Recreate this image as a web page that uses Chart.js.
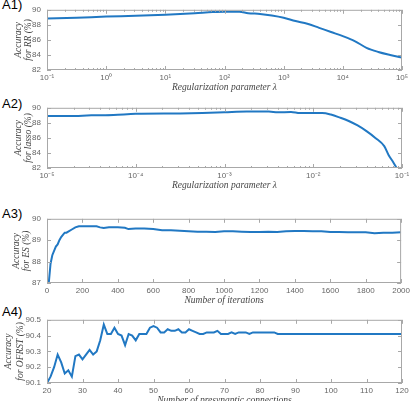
<!DOCTYPE html>
<html>
<head>
<meta charset="utf-8">
<script src="https://cdn.jsdelivr.net/npm/chart.js@4/dist/chart.umd.min.js"></script>
<style>
  body { margin: 0; background: #fff; width: 413px; height: 401px; overflow: hidden; position: relative; }
  .panel { position: absolute; left: 0; }
  .tag { position: absolute; left: 2px; font: 13px "Liberation Sans", Arial, sans-serif; color: #000; }
</style>
</head>
<body>
<div class="tag" style="top:-3px">A1)</div>
<div class="tag" style="top:96px">A2)</div>
<div class="tag" style="top:206px">A3)</div>
<div class="tag" style="top:304px">A4)</div>

<script>
// A1) ridge regression
const rrLambda = [0.1, 0.316, 1, 3.16, 10, 31.6, 63.1, 100, 178, 251, 398, 631, 1000, 1585, 2512, 3981, 6310, 10000, 15849, 25119, 39811, 63096, 100000];
const rrAcc = [88.85, 88.95, 89.1, 89.2, 89.35, 89.55, 89.7, 89.75, 89.75, 89.55, 89.45, 89.25, 88.95, 88.5, 88.15, 87.6, 87.05, 86.5, 85.85, 84.95, 84.4, 84.0, 83.65];

// A2) lasso
const lassoLambda = [1e-5, 1.78e-5, 3.16e-5, 5.62e-5, 1e-4, 3.16e-4, 5.62e-4, 1e-3, 1.78e-3, 3.16e-3, 3.98e-3, 5.62e-3, 7.08e-3, 1e-2, 1.26e-2, 1.58e-2, 2.0e-2, 2.51e-2, 3.16e-2, 3.98e-2, 5.01e-2, 6.31e-2, 7.08e-2, 7.94e-2, 8.71e-2];
const lassoAcc = [88.9, 88.9, 89.0, 89.05, 89.2, 89.25, 89.3, 89.4, 89.5, 89.5, 89.4, 89.45, 89.3, 89.3, 89.3, 89.1, 88.7, 88.25, 87.65, 86.9, 86.0, 84.9, 83.7, 82.8, 82.0];

// A3) ES iterations
const esIter = [10, 20, 30, 40, 50, 60, 70, 80, 90, 100, 110, 120, 140, 160, 180, 200, 250, 280, 300, 320, 350, 400, 440, 460, 500, 550, 600, 650, 700, 800, 850, 900, 950, 1000, 1050, 1100, 1150, 1200, 1250, 1300, 1350, 1400, 1450, 1500, 1550, 1600, 1650, 1700, 1750, 1800, 1850, 1900, 1950, 2000];
const esAcc = [87.0, 87.9, 88.3, 88.5, 88.7, 88.8, 89.0, 89.15, 89.25, 89.35, 89.35, 89.4, 89.5, 89.6, 89.65, 89.65, 89.65, 89.65, 89.6, 89.57, 89.6, 89.6, 89.58, 89.52, 89.55, 89.55, 89.52, 89.47, 89.47, 89.42, 89.4, 89.4, 89.38, 89.42, 89.42, 89.4, 89.38, 89.38, 89.4, 89.38, 89.42, 89.43, 89.43, 89.42, 89.42, 89.38, 89.38, 89.37, 89.37, 89.37, 89.33, 89.35, 89.35, 89.37];

// A4) OFRST presynaptic connections
const ofConn = [20, 21, 22, 23, 24, 25, 26, 27, 28, 29, 30, 31, 32, 33, 34, 35, 36, 37, 38, 39, 40, 41, 42, 43, 44, 45, 46, 47, 48, 49, 50, 51, 52, 53, 54, 55, 56, 57, 58, 59, 60, 61, 62, 63, 64, 65, 66, 67, 68, 69, 70, 71, 72, 73, 74, 75, 76, 77, 78, 84, 85, 120];
const ofAcc = [90.10, 90.14, 90.20, 90.28, 90.23, 90.16, 90.18, 90.14, 90.27, 90.28, 90.25, 90.28, 90.31, 90.28, 90.30, 90.37, 90.47, 90.41, 90.41, 90.45, 90.41, 90.40, 90.34, 90.41, 90.40, 90.37, 90.41, 90.41, 90.41, 90.45, 90.46, 90.45, 90.42, 90.42, 90.44, 90.43, 90.43, 90.44, 90.42, 90.42, 90.44, 90.43, 90.42, 90.41, 90.41, 90.42, 90.42, 90.42, 90.43, 90.41, 90.41, 90.41, 90.42, 90.41, 90.42, 90.42, 90.42, 90.41, 90.42, 90.42, 90.41, 90.41];

// tick values
const rrXTicks = [1e-1, 1e0, 1e1, 1e2, 1e3, 1e4, 1e5];
const lassoXTicks = [1e-5, 1e-4, 1e-3, 1e-2, 1e-1];
const esXTicks = [0, 200, 400, 600, 800, 1000, 1200, 1400, 1600, 1800, 2000];
const ofXTicks = [20, 30, 40, 50, 60, 70, 80, 90, 100, 110, 120];
const accYTicks = [82, 84, 86, 88, 90];
const esYTicks = [87, 88, 89, 90];
const ofYTicks = [90.1, 90.2, 90.3, 90.4, 90.5];

const sup = { '-': '⁻', '0': '⁰', '1': '¹', '2': '²', '3': '³', '4': '⁴', '5': '⁵', '6': '⁶', '7': '⁷', '8': '⁸', '9': '⁹' };
const powLabel = v => '10' + String(Math.round(Math.log10(v))).split('').map(c => sup[c]).join('');

const lineBlue = '#2178c3';
const tickFont = { family: '"Liberation Sans", Arial, sans-serif', size: 8 };
const serif = '"Liberation Serif", "Times New Roman", serif';

// matlab style box with inward tick marks
const frameTicks = {
  id: 'frameTicks',
  afterDatasetsDraw(chart) {
    const { ctx, chartArea: a, scales: { x, y } } = chart;
    const log = x.type === 'logarithmic';
    ctx.save();
    ctx.strokeStyle = '#a8a8a8';
    ctx.lineWidth = 1;
    ctx.strokeRect(a.left + 0.5, a.top + 0.5, a.right - a.left - 1, a.bottom - a.top - 1);
    ctx.beginPath();
    const xMark = (v, len) => {
      const px = Math.round(x.getPixelForValue(v)) + 0.5;
      ctx.moveTo(px, a.bottom); ctx.lineTo(px, a.bottom - len);
      ctx.moveTo(px, a.top); ctx.lineTo(px, a.top + len);
    };
    x.ticks.forEach(t => xMark(t.value, 4));
    if (log) {
      for (let d = Math.floor(Math.log10(x.min)); d < Math.log10(x.max); d++) {
        for (let k = 2; k <= 9; k++) xMark(k * Math.pow(10, d), 2);
      }
    }
    y.ticks.forEach(t => {
      const py = Math.round(y.getPixelForValue(t.value)) + 0.5;
      ctx.moveTo(a.left, py); ctx.lineTo(a.left + 4, py);
      ctx.moveTo(a.right, py); ctx.lineTo(a.right - 4, py);
    });
    ctx.stroke();
    ctx.restore();
  }
};

function makePanel(top, plotH, xs, ys, o) {
  const padTop = 6, bottomH = 26;
  const div = document.createElement('div');
  div.className = 'panel';
  div.style.top = (top - padTop) + 'px';
  const cv = document.createElement('canvas');
  cv.width = 413;
  cv.height = padTop + plotH + bottomH;
  div.appendChild(cv);
  document.body.appendChild(div);

  new Chart(cv, {
    type: 'line',
    data: {
      datasets: [{
        data: xs.map((v, i) => ({ x: v, y: ys[i] })),
        borderColor: lineBlue,
        borderWidth: 2,
        pointRadius: 0,
        tension: o.smooth ? 0.3 : 0,
        cubicInterpolationMode: o.smooth ? 'monotone' : 'default',
        fill: false
      }]
    },
    options: {
      responsive: false,
      animation: false,
      layout: { padding: { left: 0, right: 11, top: padTop, bottom: 0 } },
      plugins: { legend: { display: false }, tooltip: { enabled: false } },
      scales: {
        x: {
          type: o.xType,
          min: o.xMin, max: o.xMax,
          afterBuildTicks: s => { s.ticks = o.xTicks.map(v => ({ value: v })); },
          afterFit: s => { s.height = bottomH; },
          grid: { display: false, drawTicks: false },
          border: { display: false },
          ticks: {
            font: tickFont, color: '#666', padding: 3, maxRotation: 0, autoSkip: false,
            callback: v => o.xType === 'logarithmic' ? powLabel(v) : String(v)
          },
          title: { display: true, text: o.xTitle, font: { family: serif, size: 9.5, style: 'italic', lineHeight: 1 }, color: '#444', padding: { top: 0, bottom: 4 } }
        },
        y: {
          min: o.yMin, max: o.yMax,
          afterBuildTicks: s => { s.ticks = o.yTicks.map(v => ({ value: v })); },
          afterFit: s => { s.width = 47; },
          grid: { display: false, drawTicks: false },
          border: { display: false },
          ticks: {
            font: tickFont, color: '#666', padding: 6,
            callback: v => o.yDec ? v.toFixed(o.yDec) : String(v)
          },
          title: {
            display: true, text: o.yTitle, color: '#444',
            font: { family: serif, size: 9.5, style: 'italic', lineHeight: o.titleLH },
            padding: { top: o.titlePad, bottom: 0 }
          }
        }
      }
    },
    plugins: [frameTicks]
  });
}

makePanel(5, 65, rrLambda, rrAcc, {
  xType: 'logarithmic', xMin: 1e-1, xMax: 1e5, xTicks: rrXTicks,
  yMin: 82, yMax: 90, yTicks: accYTicks, smooth: true, titleLH: 1, titlePad: 14,
  xTitle: 'Regularization parameter λ', yTitle: ['Accuracy', 'for RR (%)']
});
makePanel(103, 65, lassoLambda, lassoAcc, {
  xType: 'logarithmic', xMin: 1e-5, xMax: 1e-1, xTicks: lassoXTicks,
  yMin: 82, yMax: 90, yTicks: accYTicks, smooth: true, titleLH: 1, titlePad: 14,
  xTitle: 'Regularization parameter λ', yTitle: ['Accuracy', 'for lasso (%)']
});
makePanel(214, 69, esIter, esAcc, {
  xType: 'linear', xMin: 0, xMax: 2000, xTicks: esXTicks,
  yMin: 87, yMax: 90, yTicks: esYTicks, smooth: false, titleLH: 1.05, titlePad: 12,
  xTitle: 'Number of iterations', yTitle: ['Accuracy', 'for ES (%)']
});
makePanel(315, 68, ofConn, ofAcc, {
  xType: 'linear', xMin: 20, xMax: 120, xTicks: ofXTicks,
  yMin: 90.1, yMax: 90.5, yTicks: ofYTicks, yDec: 1, smooth: false, titleLH: 1.26, titlePad: 3,
  xTitle: 'Number of presynaptic connections', yTitle: ['Accuracy', 'for OFRST (%)']
});
</script>
</body>
</html>
